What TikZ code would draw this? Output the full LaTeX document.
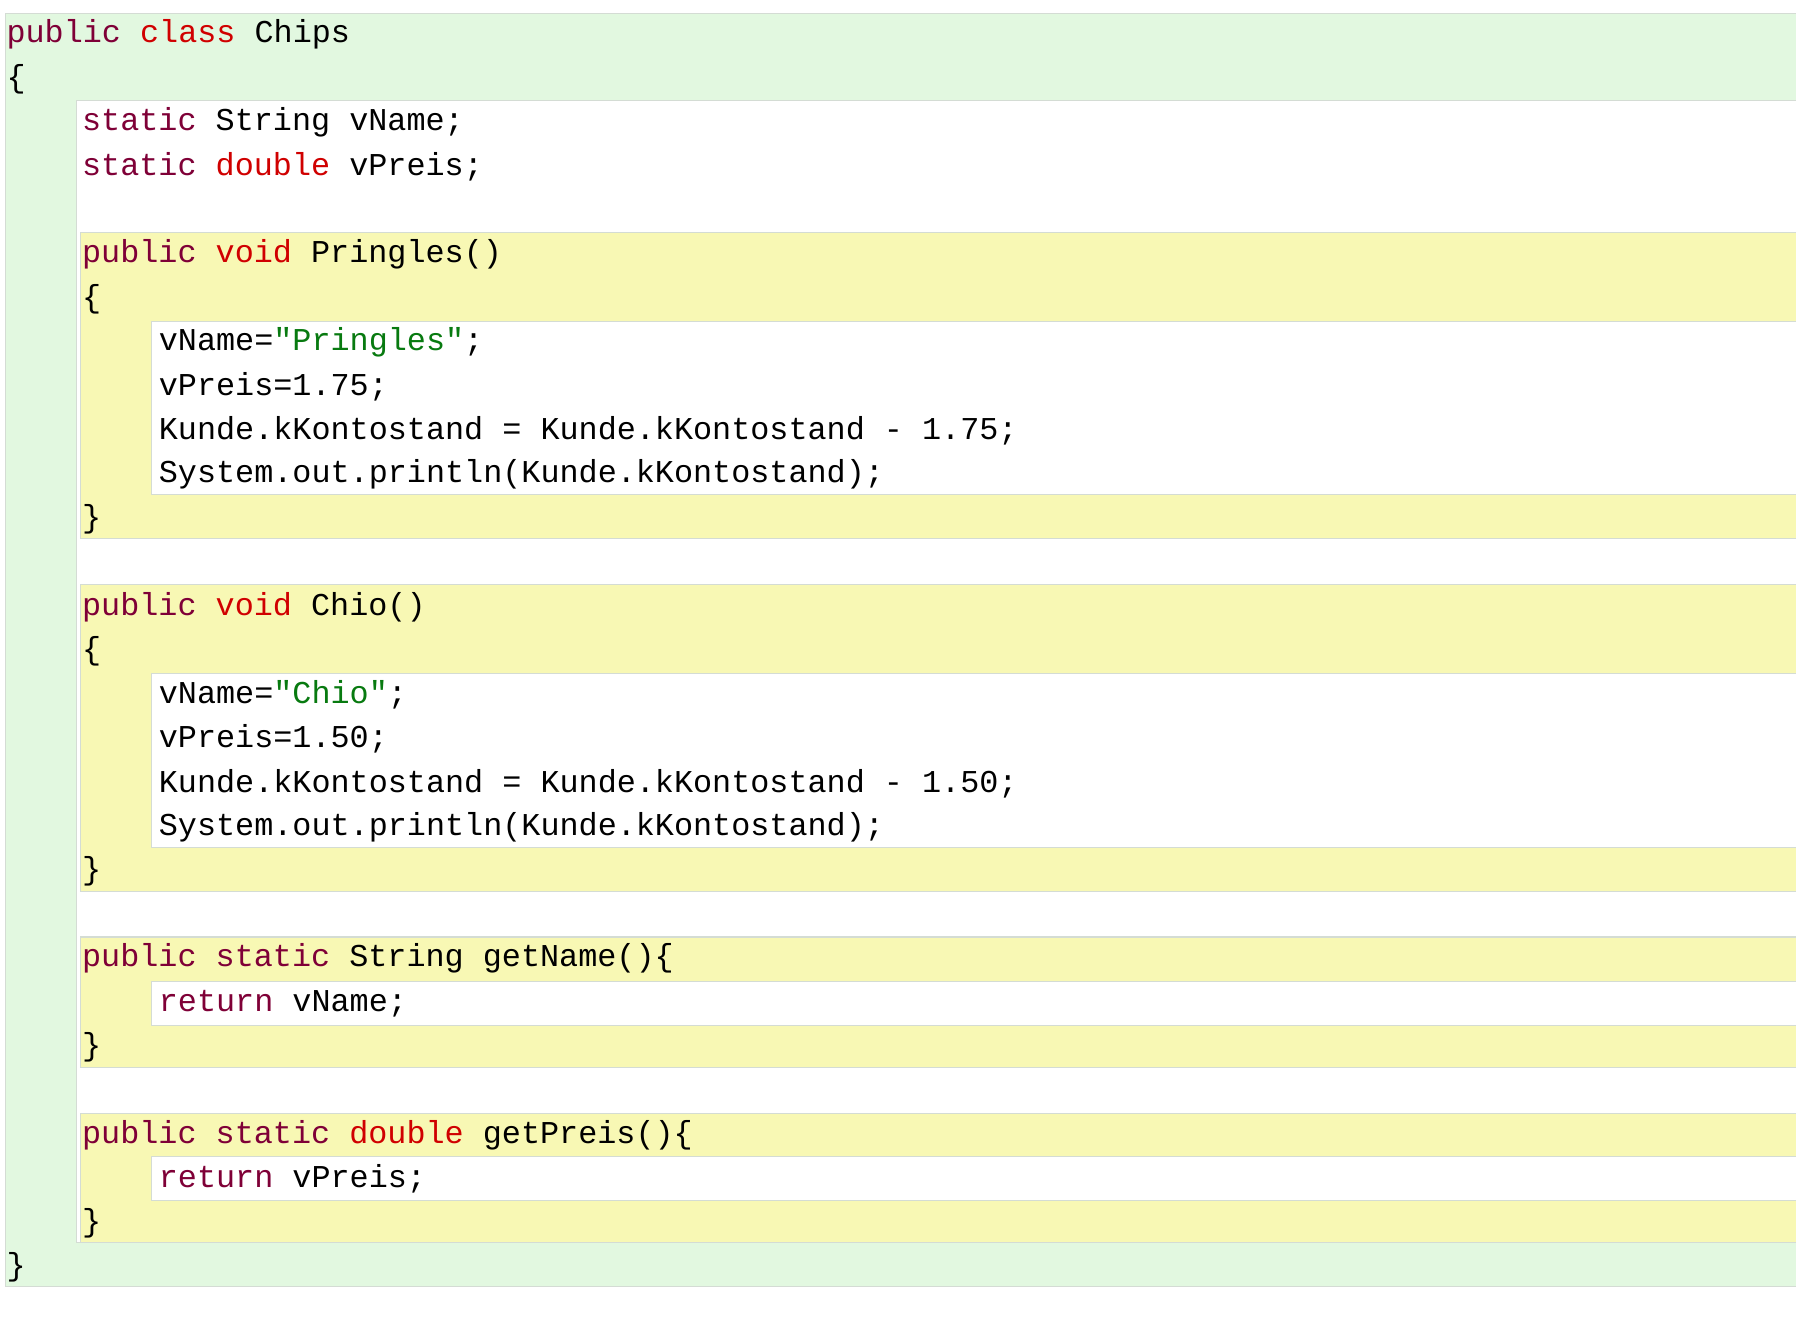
\documentclass[tikz,border=0pt]{standalone}
\usepackage{fontspec}
\setmonofont{Liberation Mono}
\definecolor{kwred}{HTML}{7F0037}
\definecolor{tyred}{HTML}{D00000}
\definecolor{strgreen}{HTML}{087A10}
\definecolor{bggreen}{HTML}{E2F8E0}
\definecolor{bgyellow}{HTML}{F8F8B4}
\definecolor{edgegray}{HTML}{D4DCD4}
\newcommand{\kw}[1]{\textcolor{kwred}{#1}}
\newcommand{\ty}[1]{\textcolor{tyred}{#1}}
\newcommand{\str}[1]{\textcolor{strgreen}{#1}}
\tikzset{
    code/.style={anchor=west,inner sep=0pt,font=\ttfamily\fontsize{7.9}{9}\selectfont},
    greenbox/.style={fill=bggreen,draw=edgegray,line width=0.3pt},
    yellowbox/.style={fill=bgyellow,draw=edgegray,line width=0.3pt},
    whitebox/.style={fill=white,draw=edgegray,line width=0.3pt}
}
\begin{document}
\begin{tikzpicture}[x=1cm,y=-1cm]
    \useasboundingbox (0,0) rectangle (15.68,11.51);
    \clip (0,0) rectangle (15.68,11.51);
    % blocks
    \draw[greenbox] (0.05,0.12) rectangle (16,11.23);
    \draw[whitebox] (0.67,0.88) rectangle (16,10.85);
    \foreach \top/\mid/\low/\bot in {2.03/2.81/4.32/4.70,5.10/5.88/7.40/7.78,8.18/8.57/8.95/9.32,9.72/10.10/10.48/10.85}
    {
        \draw[yellowbox] (0.70,\top) rectangle (16,\bot);
        \draw[whitebox] (1.32,\mid) rectangle (16,\low);
    }
    % code lines
    \node[code] (l1) at (0.05,0.30) {\kw{public} \ty{class} Chips};
    \node[code] (l2) at (0.05,0.69) {\{};
    \node[code] (l3) at (0.71,1.07) {\kw{static} String vName;};
    \node[code] (l4) at (0.71,1.46) {\kw{static} \ty{double} vPreis;};
    \node[code] (l5) at (0.71,2.22) {\kw{public} \ty{void} Pringles()};
    \node[code] (l6) at (0.71,2.61) {\{};
    \node[code] (l7) at (1.38,2.99) {vName=\str{"Pringles"};};
    \node[code] (l8) at (1.38,3.38) {vPreis=1.75;};
    \node[code] (l9) at (1.38,3.76) {Kunde.kKontostand = Kunde.kKontostand - 1.75;};
    \node[code] (l10) at (1.38,4.14) {System.out.println(Kunde.kKontostand);};
    \node[code] (l11) at (0.71,4.53) {\}};
    \node[code] (l12) at (0.71,5.30) {\kw{public} \ty{void} Chio()};
    \node[code] (l13) at (0.71,5.69) {\{};
    \node[code] (l14) at (1.38,6.07) {vName=\str{"Chio"};};
    \node[code] (l15) at (1.38,6.45) {vPreis=1.50;};
    \node[code] (l16) at (1.38,6.84) {Kunde.kKontostand = Kunde.kKontostand - 1.50;};
    \node[code] (l17) at (1.38,7.22) {System.out.println(Kunde.kKontostand);};
    \node[code] (l18) at (0.71,7.61) {\}};
    \node[code] (l19) at (0.71,8.37) {\kw{public} \kw{static} String getName()\{};
    \node[code] (l20) at (1.38,8.76) {\kw{return} vName;};
    \node[code] (l21) at (0.71,9.14) {\}};
    \node[code] (l22) at (0.71,9.91) {\kw{public} \kw{static} \ty{double} getPreis()\{};
    \node[code] (l23) at (1.38,10.29) {\kw{return} vPreis;};
    \node[code] (l24) at (0.71,10.68) {\}};
    \node[code] (l25) at (0.05,11.06) {\}};
\end{tikzpicture}
\end{document}
